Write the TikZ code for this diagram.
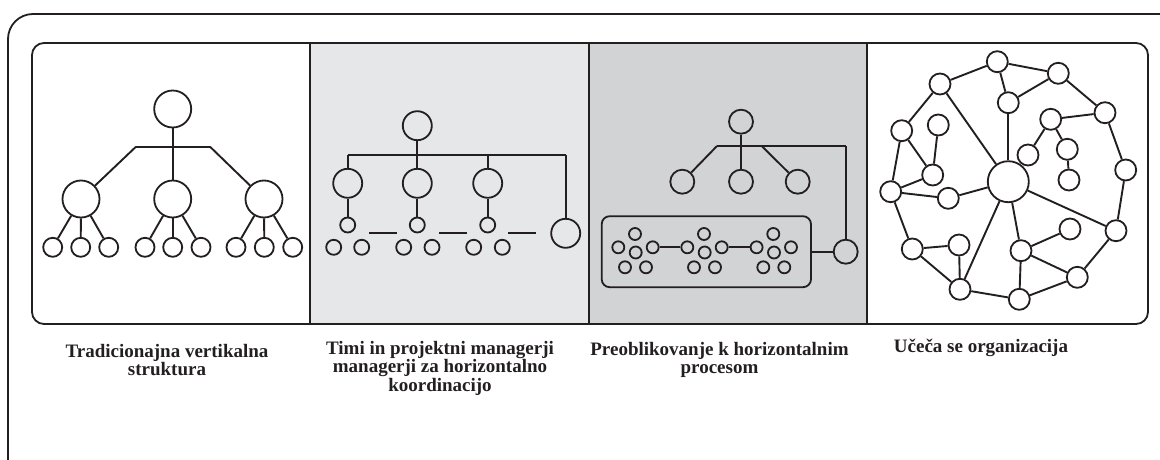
\documentclass[tikz,border=0pt]{standalone}
\usepackage{fontspec}
\setmainfont{Liberation Serif}
\definecolor{ink}{HTML}{231F20}
\definecolor{pa}{HTML}{E6E7E8}
\definecolor{pb}{HTML}{D1D3D4}
\tikzset{
  nd/.style={circle,draw=ink,line width=1.8pt,inner sep=0pt,minimum size=#1},
  ln/.style={draw=ink,line width=1.9pt},
  frm/.style={draw=ink,line width=1.8pt},
  lbl/.style={font=\bfseries\fontsize{19}{18.5}\selectfont,align=center,anchor=north,inner sep=0pt,text=ink},
}
\begin{document}
\begin{tikzpicture}[x=1pt,y=-1pt]
\useasboundingbox (0,0) rectangle (1160,460);
% outer frame
\draw[frm,rounded corners=25pt] (8,14) rectangle (1185,485);
% panel fills
\fill[pa] (310,43) rectangle (589,324);
\fill[pb] (589,43) rectangle (867,324);
\draw[frm,rounded corners=12pt] (32,43) rectangle (1148,324);
\draw[frm] (310,43) -- (310,324);
\draw[frm] (589,43) -- (589,324);
\draw[frm] (867,43) -- (867,324);

% ---------- panel 1
\node[nd=37pt] (a0) at (172.7,109) {};
\coordinate (a0l) at (136,146.7);
\coordinate (a0r) at (210,146.7);
\node[nd=37pt] (a1) at (81,199) {};
\node[nd=37pt] (a2) at (172.7,199) {};
\node[nd=37pt] (a3) at (264,199) {};
\foreach \x [count=\k] in {52.7,80.7,108.7} \node[nd=19pt] (a1\k) at (\x,247.3) {};
\foreach \x [count=\k] in {145,172.7,201} \node[nd=19pt] (a2\k) at (\x,247.3) {};
\foreach \x [count=\k] in {236,264.3,292.7} \node[nd=19pt] (a3\k) at (\x,247.3) {};
\draw[ln] (a0) -- (a2);
\draw[ln] (a0l) -- (a0r);
\draw[ln] (a0l) -- (a1);
\draw[ln] (a0r) -- (a3);
\foreach \i in {1,2,3} \foreach \j in {1,2,3} \draw[ln] (a\i) -- (a\i\j);

% ---------- panel 2
\node[nd=29pt] (b0) at (417.3,125.7) {};
\coordinate (b0l) at (347.7,155);
\coordinate (b0m) at (487.7,155);
\coordinate (b0r) at (565.7,155);
\node[nd=29pt] (b1) at (347.7,183.3) {};
\node[nd=29pt] (b2) at (417.3,183.3) {};
\node[nd=29pt] (b3) at (487.7,183.3) {};
\node[nd=15pt] (b1s) at (347.7,225) {};
\node[nd=15pt] (b2s) at (417.3,225) {};
\node[nd=15pt] (b3s) at (487.7,225) {};
\node[nd=15pt] (b11) at (333.7,247.3) {};
\node[nd=15pt] (b12) at (361.7,247.3) {};
\node[nd=15pt] (b21) at (403.7,247.3) {};
\node[nd=15pt] (b22) at (432,247.3) {};
\node[nd=15pt] (b31) at (473.7,247.3) {};
\node[nd=15pt] (b32) at (502.3,247.3) {};
\node[nd=29pt] (b4) at (565.7,233.3) {};
\draw[ln] (b0) -- (b2);
\draw[ln] (b0l) -- (b0r);
\draw[ln] (b0l) -- (b1);
\draw[ln] (b0m) -- (b3);
\draw[ln] (b0r) -- (b4);
\draw[ln] (b1) -- (b1s);
\draw[ln] (b2) -- (b2s);
\draw[ln] (b3) -- (b3s);
\coordinate (d1a) at (369,233.3); \coordinate (d1b) at (397.3,233.3);
\coordinate (d2a) at (439,233.3); \coordinate (d2b) at (467.3,233.3);
\coordinate (d3a) at (508.3,233.3); \coordinate (d3b) at (536,233.3);
\draw[ln] (d1a) -- (d1b);
\draw[ln] (d2a) -- (d2b);
\draw[ln] (d3a) -- (d3b);

% ---------- panel 3
\node[nd=24pt] (c0) at (741,121.7) {};
\coordinate (c0l) at (717,146);
\coordinate (c0m) at (761.7,146);
\coordinate (c0r) at (845.7,146);
\node[nd=24pt] (c1) at (682.3,181.7) {};
\node[nd=24pt] (c2) at (741,181.7) {};
\node[nd=24pt] (c3) at (797.7,181.7) {};
\node[nd=24pt] (c4) at (845.7,251.7) {};
\node[draw=ink,line width=1.8pt,rounded corners=8pt,minimum width=209.3pt,minimum height=71pt,inner sep=0pt] (box) at (706.35,251.7) {};
\draw[ln] (c0) -- (c2);
\draw[ln] (c0l) -- (c0r);
\draw[ln] (c0l) -- (c1);
\draw[ln] (c0m) -- (c3);
\draw[ln] (c0r) -- (c4);
\draw[ln] (box) -- (c4);
\foreach \o [count=\k] in {0,69,138.3} {
  \node[nd=12pt] (g\k t) at (635+\o,234) {};
  \node[nd=12pt] (g\k l) at (618.3+\o,247.3) {};
  \node[nd=12pt] (g\k c) at (635.7+\o,252.5) {};
  \node[nd=12pt] (g\k r) at (652.7+\o,247.3) {};
  \node[nd=12pt] (g\k a) at (625+\o,267.3) {};
  \node[nd=12pt] (g\k b) at (646+\o,267.3) {};
}
\draw[ln] (g1r) -- (g2l);
\draw[ln] (g2r) -- (g3l);

% ---------- panel 4
\node[nd=41pt] (nC) at (1008.3,181.7) {};
\foreach \n/\x/\y in {1/997.3/61.7, 2/1058.3/73.3, 3/1008.3/102.7, 4/940/84, 5/1105/112.7,
  6/1050.7/119.3, 7/938.3/125, 8/901.7/130.7, 9/1028/155, 10/1067.3/149.3, 11/1125.7/170,
  12/932.7/175, 13/1069/180, 14/890.7/191.7, 15/948.3/198.3, 16/1070/229, 17/1116/230.7,
  18/912.3/249, 19/959/245, 20/1021/250.7, 21/1077.3/277.3, 22/960/289.3, 23/1019.3/299.3}
  \node[nd=21pt] (n\n) at (\x,\y) {};
\foreach \a/\b in {4/1, 1/2, 1/3, 3/2, 2/5, 5/11, 11/17, 17/21, 21/23, 23/22, 22/18, 18/14, 14/8, 8/4,
  4/C, 3/C, 6/5, 6/9, 6/10, 10/13, 7/12, 8/12, 12/14, 14/15, 15/C, C/17, C/20, C/22,
  20/16, 20/21, 20/23, 18/19, 19/22}
  \draw[ln] (n\a) -- (n\b);

% ---------- labels
\node[lbl] (t1) at (167,344) {Tradicionajna vertikalna\\struktura};
\node[lbl] (t2) at (440,341) {Timi in projektni managerji\\managerji za horizontalno\\koordinacijo};
\node[lbl] (t3) at (719.5,342) {Preoblikovanje k horizontalnim\\procesom};
\node[lbl] (t4) at (981,339) {Učeča se organizacija};
\end{tikzpicture}
\end{document}
